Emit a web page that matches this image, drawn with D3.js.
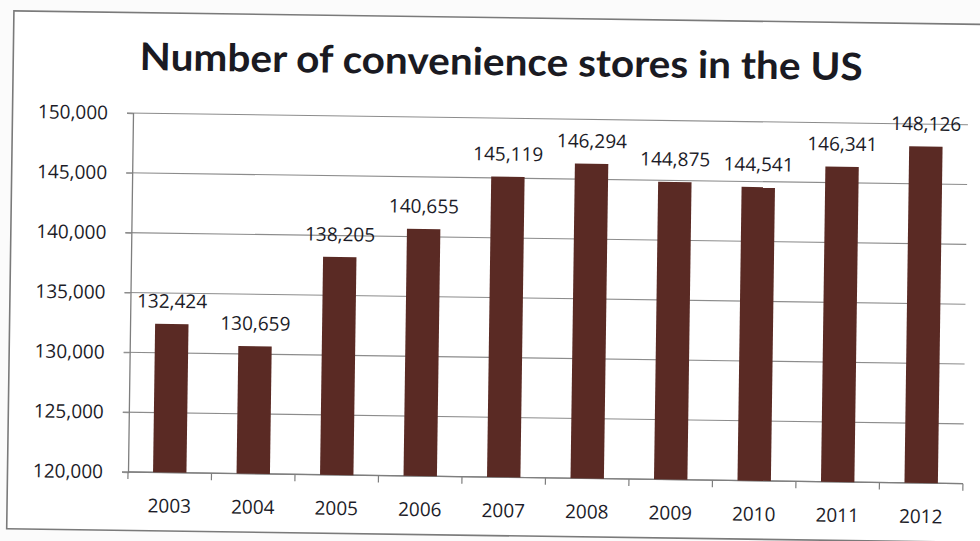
<!DOCTYPE html>
<html>
<head>
<meta charset="utf-8">
<script src="https://cdn.jsdelivr.net/npm/d3@7"></script>
<style>
  html, body { margin: 0; padding: 0; background: #ffffff; }
  svg { display: block; }
  text { font-family: "Open Sans", Lato, sans-serif; }
</style>
</head>
<body>
<svg id="chart" width="980" height="541"></svg>
<script>
// Convenience store counts by year
const years = ["2003", "2004", "2005", "2006", "2007", "2008", "2009", "2010", "2011", "2012"];
const stores = [132424, 130659, 138205, 140655, 145119, 146294, 144875, 144541, 146341, 148126];
const yTicks = [120000, 125000, 130000, 135000, 140000, 145000, 150000];
const title = "Number of convenience stores in the US";

const W = 980, H = 541;
const plot = { left: 128, right: 963, top: 113, bottom: 472 };
const barColor = "#5a2a24";
const gridColor = "#8c8c8c";
const textColor = "#1c1c28";
const labelFont = "'Open Sans', Lato, sans-serif";

const svg = d3.select("#chart");
svg.append("rect").attr("width", W).attr("height", H).attr("fill", "#fbfbfb");

// whole sheet sits at a slight angle
const g = svg.append("g")
  .attr("transform", `rotate(0.8, ${plot.left}, ${plot.bottom})`);

// chart frame
g.append("rect")
  .attr("x", 7.5).attr("y", 12.5)
  .attr("width", 1100).attr("height", 518)
  .attr("fill", "#ffffff")
  .attr("stroke", "#7a7a7a").attr("stroke-width", 1.6);

const x = d3.scaleBand()
  .domain(years)
  .range([plot.left, plot.right])
  .paddingInner(0.6)
  .paddingOuter(0.3);

const y = d3.scaleLinear()
  .domain([120000, 150000])
  .range([plot.bottom, plot.top]);

// horizontal gridlines
g.append("g")
  .selectAll("line")
  .data(yTicks)
  .join("line")
  .attr("x1", plot.left - 6).attr("x2", plot.right)
  .attr("y1", d => y(d)).attr("y2", d => y(d))
  .attr("stroke", gridColor).attr("stroke-width", 1.1);

// y axis with labels
const yAxis = g.append("g")
  .attr("transform", `translate(${plot.left},0)`)
  .call(d3.axisLeft(y).tickValues(yTicks).tickFormat(d3.format(",")).tickSize(6).tickPadding(19));
yAxis.select(".domain").attr("stroke", "#7e7e7e").attr("stroke-width", 1.3);
yAxis.selectAll(".tick line").attr("stroke", gridColor);
yAxis.selectAll(".tick text")
  .attr("fill", textColor)
  .style("font-size", "19px")
  .style("font-family", labelFont);

// x axis: ticks sit on category boundaries
const step = x.step();
const boundaries = d3.range(years.length + 1).map(i => plot.left + i * step);
g.append("line")
  .attr("x1", plot.left).attr("x2", plot.right)
  .attr("y1", plot.bottom).attr("y2", plot.bottom)
  .attr("stroke", "#7e7e7e").attr("stroke-width", 1.3);
g.append("g")
  .selectAll("line")
  .data(boundaries)
  .join("line")
  .attr("x1", d => d).attr("x2", d => d)
  .attr("y1", plot.bottom).attr("y2", plot.bottom + 7)
  .attr("stroke", "#7e7e7e").attr("stroke-width", 1.2);

g.append("g")
  .selectAll("text")
  .data(years)
  .join("text")
  .attr("x", d => x(d) + x.bandwidth() / 2)
  .attr("y", plot.bottom + 40)
  .attr("text-anchor", "middle")
  .attr("fill", textColor)
  .style("font-size", "19px")
  .style("font-family", labelFont)
  .text(d => d);

// bars
const data = years.map((yr, i) => ({ year: yr, value: stores[i] }));
g.append("g")
  .selectAll("rect")
  .data(data)
  .join("rect")
  .attr("x", d => x(d.year))
  .attr("width", x.bandwidth())
  .attr("y", d => y(d.value))
  .attr("height", d => plot.bottom - y(d.value))
  .attr("fill", barColor);

// value labels
g.append("g")
  .selectAll("text")
  .data(data)
  .join("text")
  .attr("x", d => x(d.year) + x.bandwidth() / 2)
  .attr("y", d => y(d.value) - 16)
  .attr("text-anchor", "middle")
  .attr("fill", textColor)
  .style("font-size", "19px")
  .style("font-family", labelFont)
  .text(d => d3.format(",")(d.value));

// title
g.append("text")
  .attr("x", 134)
  .attr("y", 70)
  .attr("fill", "#1a1a22")
  .attr("textLength", 723)
  .attr("lengthAdjust", "spacingAndGlyphs")
  .style("font-family", "Lato, 'Open Sans', sans-serif")
  .style("font-size", "38px")
  .style("font-weight", "700")
  .text(title);
</script>
</body>
</html>
